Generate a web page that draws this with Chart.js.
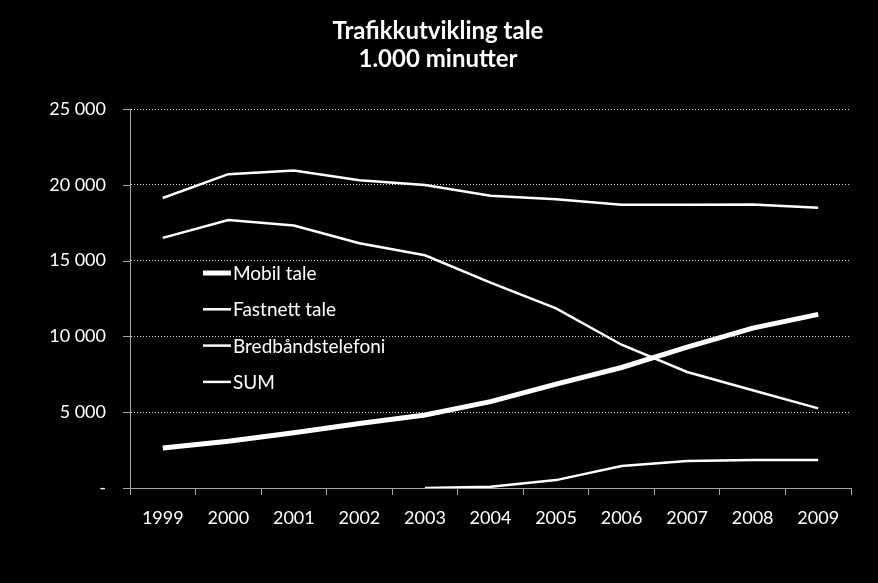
<!DOCTYPE html>
<html><head><meta charset="utf-8">
<script src="https://cdn.jsdelivr.net/npm/chart.js@4/dist/chart.umd.min.js"></script>
<style>html,body{margin:0;padding:0;background:#000;overflow:hidden}</style>
</head><body>
<canvas id="c" width="878" height="583"></canvas>
<script>
const years = ['1999','2000','2001','2002','2003','2004','2005','2006','2007','2008','2009'];
const mobilTale = [2640, 3080, 3650, 4250, 4820, 5700, 6850, 7950, 9300, 10550, 11450];
const fastnettTale = [16500, 17680, 17320, 16150, 15350, 13550, 11850, 9450, 7650, 6450, 5250];
const bredbandstelefoni = [null, null, null, null, 0, 80, 520, 1450, 1780, 1850, 1850];
const sumTale = [19130, 20700, 20950, 20300, 19980, 19280, 19050, 18680, 18690, 18700, 18480];
const yTicks = [0, 5000, 10000, 15000, 20000, 25000];
const titleLines = ['Trafikkutvikling tale', '1.000 minutter'];

const FONT = 'Lato, "Open Sans", "DejaVu Sans", sans-serif';
const AXIS = '#a6a6a6';

const bgPlugin = {id:'bg', beforeDraw(c){const x=c.ctx; x.save(); x.fillStyle='#000'; x.fillRect(0,0,c.width,c.height); x.restore();}};
const titlePlugin = {id:'tt', afterDraw(c){
  const ctx=c.ctx; ctx.save(); ctx.font='bold 24px '+FONT; ctx.fillStyle='#fff'; ctx.textAlign='center'; ctx.textBaseline='middle';
  titleLines.forEach((t,i)=>ctx.fillText(t, 438, 31+i*28));
  ctx.restore();
}};
const yTickMarks = {id:'ytm', afterDraw(c){
  const s=c.scales.y, ctx=c.ctx; ctx.save(); ctx.strokeStyle=AXIS; ctx.lineWidth=1;
  s.ticks.forEach(t=>{const y=Math.round(s.getPixelForValue(t.value))+0.5; ctx.beginPath(); ctx.moveTo(s.right-7,y); ctx.lineTo(s.right,y); ctx.stroke();});
  ctx.restore();
}};
const legendPlugin = {id:'lg', afterDatasetsDraw(c){
  const ctx=c.ctx; ctx.save(); ctx.font='19px '+FONT; ctx.fillStyle='#fff'; ctx.textBaseline='middle';
  c.data.datasets.forEach((d,i)=>{
    const y=273+i*36.3;
    ctx.strokeStyle='#fff'; ctx.lineWidth=d.borderWidth; ctx.beginPath(); ctx.moveTo(203,y); ctx.lineTo(231,y); ctx.stroke();
    ctx.fillText(d.label,233,y+1);
  });
  ctx.restore();
}};

const fmt = v => v===0 ? '-' : String(v).replace(/\B(?=(\d{3})+(?!\d))/g,' ');

new Chart(document.getElementById('c'), {
  type:'line',
  data:{
    labels: years,
    datasets:[
      {label:'Mobil tale', data:mobilTale, borderColor:'#fff', borderWidth:5, pointRadius:0, tension:0},
      {label:'Fastnett tale', data:fastnettTale, borderColor:'#fff', borderWidth:2.5, pointRadius:0, tension:0},
      {label:'Bredbåndstelefoni', data:bredbandstelefoni, borderColor:'#fff', borderWidth:2.5, pointRadius:0, tension:0},
      {label:'SUM', data:sumTale, borderColor:'#fff', borderWidth:2.5, pointRadius:0, tension:0}
    ]
  },
  options:{
    responsive:false, animation:false, devicePixelRatio:1,
    layout:{padding:{left:0,right:27,top:109,bottom:0}},
    plugins:{
      legend:{display:false}, tooltip:{enabled:false}, title:{display:false}
    },
    scales:{
      x:{
        offset:true,
        grid:{display:true, drawOnChartArea:false, drawTicks:true, tickLength:7, color:AXIS, offset:true},
        border:{color:AXIS, width:1},
        ticks:{color:'#fff', font:{family:FONT, size:18}, padding:12, maxRotation:0, autoSkip:false},
        afterFit(s){s.height=95;}
      },
      y:{
        min:0, max:25000,
        afterBuildTicks(s){s.ticks = yTicks.map(v=>({value:v}));},
        grid:{drawTicks:false, color:ctx=>ctx.tick && ctx.tick.value===0 ? 'rgba(0,0,0,0)' : 'rgba(255,255,255,0.85)', lineWidth:1},
        border:{color:AXIS, width:1, dash:[1,2]},
        ticks:{color:'#fff', font:{family:FONT, size:18}, padding:24, callback:v=>fmt(v)},
        afterFit(s){s.width=130;}
      }
    }
  },
  plugins:[bgPlugin, titlePlugin, yTickMarks, legendPlugin]
});
</script>
</body></html>
